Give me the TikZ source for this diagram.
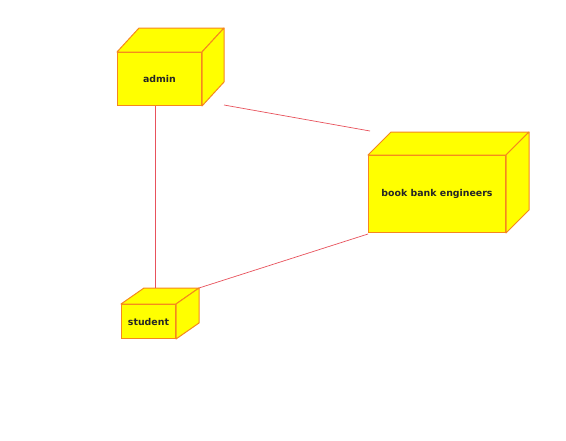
\documentclass[tikz,border=0pt]{standalone}
\usepackage{fontspec}
\setmainfont{DejaVu Sans}
\definecolor{cubefill}{RGB}{255,255,0}
\definecolor{cubeline}{RGB}{245,135,30}
\definecolor{linkline}{RGB}{232,82,92}
\tikzset{
  cubeface/.style={draw=cubeline, fill=cubefill, line width=1pt, inner sep=0pt,
    font=\fontsize{9.4}{11}\selectfont\bfseries, text=black!85, anchor=north west},
  cubeedge/.style={draw=cubeline, fill=cubefill, line width=1pt, line join=round},
  link/.style={draw=linkline, line width=0.7pt}
}
\newcommand\cubefaces[3]{%
  \path[cubeedge] (#1.north west) -- ([shift={(#2,#3)}]#1.north west) -- ([shift={(#2,#3)}]#1.north east) -- (#1.north east) -- cycle;
  \path[cubeedge] (#1.north east) -- ([shift={(#2,#3)}]#1.north east) -- ([shift={(#2,#3)}]#1.south east) -- (#1.south east) -- cycle;
}
\begin{document}
\begin{tikzpicture}[x=1pt,y=-1pt]
\useasboundingbox[fill=white] (0,0) rectangle (566,440);
\node[cubeface, minimum width=84pt, minimum height=53pt] (admin) at (117,52) {admin};
\node[cubeface, minimum width=137pt, minimum height=77pt] (bank) at (368,155) {book bank engineers};
\node[cubeface, minimum width=54pt, minimum height=34pt] (student) at (121,304) {student};
\cubefaces{admin}{22}{-24}
\cubefaces{bank}{23}{-23}
\cubefaces{student}{23}{-16}
\draw[link] ([xshift=-4pt]admin.south) -- ([shift={(7,-16)}]student.north);
\draw[link] ([shift={(22,-1)}]admin.south east) -- ([shift={(2,-24)}]bank.north west);
\draw[link] ([shift={(23,-16)}]student.north east) -- ([shift={(0,1)}]bank.south west);
\end{tikzpicture}
\end{document}
